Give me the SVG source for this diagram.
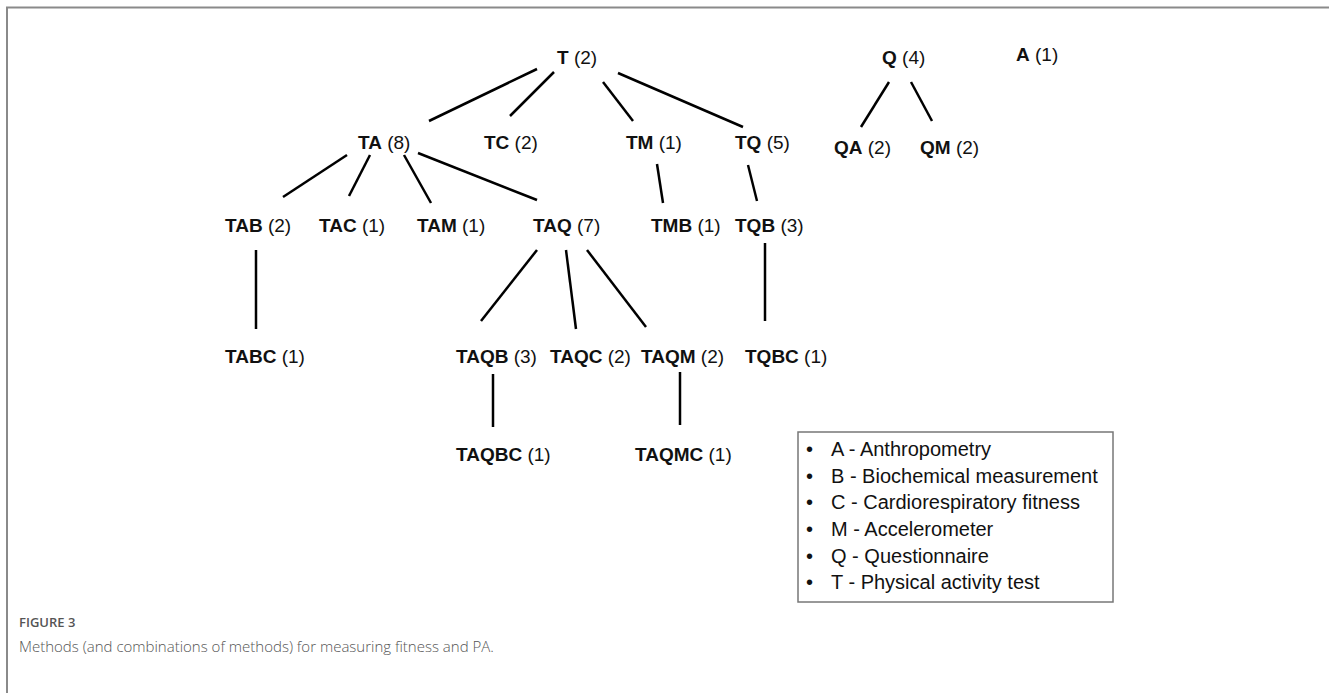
<svg xmlns="http://www.w3.org/2000/svg" width="1329" height="693" viewBox="0 0 1329 693">
<style>
.lbl{font-family:"Liberation Sans",Arial,sans-serif;font-size:19px;fill:#111}
.lbl .b{font-weight:bold}
.lg{font-family:"Liberation Sans",Arial,sans-serif;font-size:20px;fill:#111}
.edge{stroke:#000;stroke-width:2.5;stroke-linecap:butt;fill:none}
.frame{stroke:#8a8a8a;stroke-width:2;fill:none}
.cap1{font-family:"Open Sans","Liberation Sans",sans-serif;font-size:13px;fill:#555;font-weight:600}
.cap2{font-family:"Open Sans","Liberation Sans",sans-serif;font-size:15px;fill:#555;font-weight:300}
</style>
<rect width="1329" height="693" fill="#fff"/>
<path class="frame" d="M7,693 V7.5 H1329"/>
<g id="connectors">
<line class="edge" x1="537" y1="69" x2="429" y2="121"/>
<line class="edge" x1="554" y1="72" x2="510" y2="116"/>
<line class="edge" x1="603" y1="82" x2="633" y2="121"/>
<line class="edge" x1="618" y1="73" x2="743" y2="127"/>
<line class="edge" x1="889" y1="82" x2="861" y2="127"/>
<line class="edge" x1="911" y1="82" x2="932" y2="121"/>
<line class="edge" x1="347" y1="155" x2="283" y2="197"/>
<line class="edge" x1="370" y1="155" x2="349" y2="196"/>
<line class="edge" x1="404" y1="155" x2="431" y2="203"/>
<line class="edge" x1="418" y1="153" x2="537" y2="200"/>
<line class="edge" x1="657" y1="164" x2="663" y2="203"/>
<line class="edge" x1="748" y1="165" x2="757" y2="201"/>
<line class="edge" x1="256" y1="250" x2="256" y2="329"/>
<line class="edge" x1="537" y1="250" x2="481" y2="321"/>
<line class="edge" x1="566" y1="250" x2="576" y2="329"/>
<line class="edge" x1="587" y1="250" x2="646" y2="327"/>
<line class="edge" x1="765" y1="243" x2="765" y2="321"/>
<line class="edge" x1="493" y1="374" x2="493" y2="427"/>
<line class="edge" x1="680" y1="372" x2="680" y2="425"/>
</g>
<g id="T"><text class="lbl" x="557" y="64"><tspan class="b">T</tspan> (2)</text></g>
<g id="Q"><text class="lbl" x="882" y="64"><tspan class="b">Q</tspan> (4)</text></g>
<g id="A"><text class="lbl" x="1016" y="61"><tspan class="b">A</tspan> (1)</text></g>
<g id="TA"><text class="lbl" x="358" y="149"><tspan class="b">TA</tspan> (8)</text></g>
<g id="TC"><text class="lbl" x="484" y="149"><tspan class="b">TC</tspan> (2)</text></g>
<g id="TM"><text class="lbl" x="626" y="149"><tspan class="b">TM</tspan> (1)</text></g>
<g id="TQ"><text class="lbl" x="735" y="149"><tspan class="b">TQ</tspan> (5)</text></g>
<g id="QA"><text class="lbl" x="834" y="154"><tspan class="b">QA</tspan> (2)</text></g>
<g id="QM"><text class="lbl" x="920" y="154"><tspan class="b">QM</tspan> (2)</text></g>
<g id="TAB"><text class="lbl" x="225" y="232"><tspan class="b">TAB</tspan> (2)</text></g>
<g id="TAC"><text class="lbl" x="319" y="232"><tspan class="b">TAC</tspan> (1)</text></g>
<g id="TAM"><text class="lbl" x="417" y="232"><tspan class="b">TAM</tspan> (1)</text></g>
<g id="TAQ"><text class="lbl" x="533" y="232"><tspan class="b">TAQ</tspan> (7)</text></g>
<g id="TMB"><text class="lbl" x="651" y="232"><tspan class="b">TMB</tspan> (1)</text></g>
<g id="TQB"><text class="lbl" x="735" y="232"><tspan class="b">TQB</tspan> (3)</text></g>
<g id="TABC"><text class="lbl" x="225" y="363"><tspan class="b">TABC</tspan> (1)</text></g>
<g id="TAQB"><text class="lbl" x="456" y="363"><tspan class="b">TAQB</tspan> (3)</text></g>
<g id="TAQC"><text class="lbl" x="550" y="363"><tspan class="b">TAQC</tspan> (2)</text></g>
<g id="TAQM"><text class="lbl" x="641" y="363"><tspan class="b">TAQM</tspan> (2)</text></g>
<g id="TQBC"><text class="lbl" x="745" y="363"><tspan class="b">TQBC</tspan> (1)</text></g>
<g id="TAQBC"><text class="lbl" x="456" y="461"><tspan class="b">TAQBC</tspan> (1)</text></g>
<g id="TAQMC"><text class="lbl" x="635" y="461"><tspan class="b">TAQMC</tspan> (1)</text></g>
<g id="legend">
<rect x="798" y="432" width="315" height="170" fill="#fff" stroke="#777" stroke-width="1.5"/>
<g class="lg">
<text x="806" y="456">•</text><text x="831" y="456">A - Anthropometry</text>
<text x="806" y="483">•</text><text x="831" y="483">B - Biochemical measurement</text>
<text x="806" y="509">•</text><text x="831" y="509">C - Cardiorespiratory fitness</text>
<text x="806" y="536">•</text><text x="831" y="536">M - Accelerometer</text>
<text x="806" y="563">•</text><text x="831" y="563">Q - Questionnaire</text>
<text x="806" y="589">•</text><text x="831" y="589">T - Physical activity test</text>
</g>
</g>
<text class="cap1" x="19" y="627">FIGURE 3</text>
<text class="cap2" x="19" y="652">Methods (and combinations of methods) for measuring fitness and PA.</text>
</svg>
